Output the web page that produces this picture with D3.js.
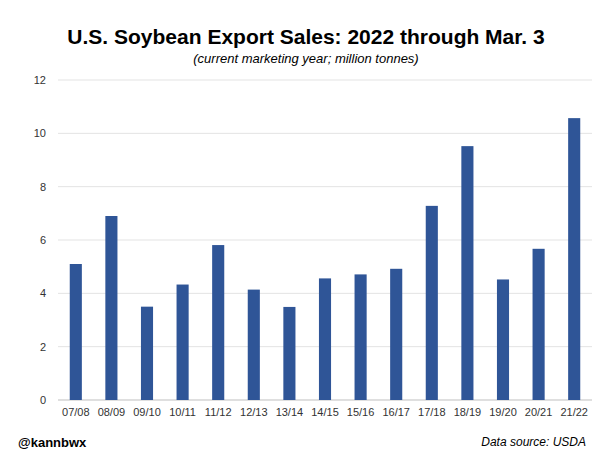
<!DOCTYPE html>
<html><head><meta charset="utf-8">
<script src="https://cdn.jsdelivr.net/npm/d3@7"></script>
<style>body{margin:0;background:#fff;font-family:"Liberation Sans",Arial,sans-serif}</style>
</head><body>
<script>
const years = ["07/08","08/09","09/10","10/11","11/12","12/13","13/14","14/15","15/16","16/17","17/18","18/19","19/20","20/21","21/22"];
const sales = [5.1,6.9,3.5,4.33,5.81,4.14,3.49,4.56,4.71,4.92,7.28,9.52,4.52,5.67,10.57];
const yTicks = [0,2,4,6,8,10,12];

const W = 600, H = 457;
const svg = d3.select("body").append("svg").attr("width", W).attr("height", H);
const x = d3.scaleBand().domain(years).range([58, 592]).paddingInner(0.66).paddingOuter(0.33);
const y = d3.scaleLinear().domain([0, 12]).range([400, 80]);

svg.append("g").selectAll("line").data(yTicks).join("line")
  .attr("x1", 58).attr("x2", 592).attr("y1", d => y(d)).attr("y2", d => y(d))
  .attr("stroke", d => d === 0 ? "#bfbfbf" : "#e3e3e3");
svg.append("g").selectAll("text").data(yTicks).join("text")
  .attr("x", 46).attr("y", d => y(d) + 4).attr("text-anchor", "end")
  .attr("font-size", 11).attr("fill", "#333").text(d => d);

svg.append("g").selectAll("rect").data(years).join("rect")
  .attr("x", d => x(d)).attr("width", x.bandwidth())
  .attr("y", (d, i) => y(sales[i])).attr("height", (d, i) => y(0) - y(sales[i]))
  .attr("fill", "#2f5597");
svg.append("g").selectAll("text").data(years).join("text")
  .attr("x", d => x(d) + x.bandwidth() / 2).attr("y", 416).attr("text-anchor", "middle")
  .attr("font-size", 11).attr("fill", "#333").text(d => d);

svg.append("text").attr("x", 306).attr("y", 44).attr("text-anchor", "middle")
  .attr("font-size", 21).attr("font-weight", "bold").text("U.S. Soybean Export Sales: 2022 through Mar. 3");
svg.append("text").attr("x", 306).attr("y", 63).attr("text-anchor", "middle")
  .attr("font-size", 13).attr("font-style", "italic").text("(current marketing year; million tonnes)");
svg.append("text").attr("x", 18).attr("y", 447).attr("font-size", 13).attr("font-weight", "bold").text("@kannbwx");
svg.append("text").attr("x", 586).attr("y", 446).attr("text-anchor", "end")
  .attr("font-size", 12).attr("font-style", "italic").text("Data source: USDA");
</script>
</body></html>
